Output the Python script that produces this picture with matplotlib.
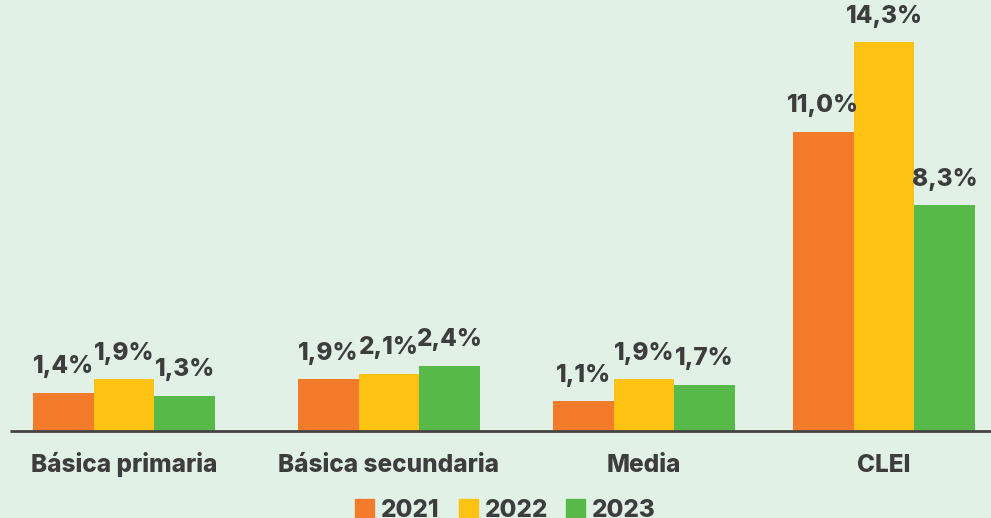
import matplotlib
matplotlib.use("Agg")
import matplotlib.pyplot as plt
from matplotlib.patches import Rectangle

# ---- data ----
categories = ["Básica primaria", "Básica secundaria", "Media", "CLEI"]
years = ["2021", "2022", "2023"]
values_2021 = [1.4, 1.9, 1.1, 11.0]
values_2022 = [1.9, 2.1, 1.9, 14.3]
values_2023 = [1.3, 2.4, 1.7, 8.3]
series = [values_2021, values_2022, values_2023]

# ---- style ----
W, H = 991, 518
bg = "#E1F1E6"
colors = ["#F47B2A", "#FDC212", "#57B947"]
txt = "#3D3D3D"
plt.rcParams['font.family'] = ['Inter', 'DejaVu Sans']
FS = 17.5
FW = 'heavy'

fig = plt.figure(figsize=(W / 100, H / 100), dpi=100)
fig.patch.set_facecolor(bg)

base_px = 431  # baseline, pixels from top
ax = fig.add_axes([0, (H - base_px) / H, 1, base_px / H])
ax.set_facecolor(bg)
ax.set_xlim(0, W)
ax.set_ylim(0, base_px / 27.2)
for s in ax.spines.values():
    s.set_visible(False)
ax.set_xticks([])
ax.set_yticks([])

group_centers = [124, 389, 644, 884]
bar_w = 60.7

for i, (vals, col) in enumerate(zip(series, colors)):
    xs = [c + (i - 1) * bar_w for c in group_centers]
    ax.bar(xs, vals, width=bar_w, color=col, align='center', zorder=2)
    for x, v in zip(xs, vals):
        ax.annotate(f"{v:.1f}%".replace('.', ','), xy=(x, v), xytext=(0, 14),
                    textcoords='offset points', ha='center', va='baseline',
                    fontsize=FS, fontweight=FW, color=txt, zorder=3)

ax.plot([10, W], [0, 0], color="#444444", lw=2, zorder=4, clip_on=False,
        solid_capstyle='butt')

for c, name in zip(group_centers, categories):
    ax.annotate(name, xy=(c, 0), xycoords=('data', 'axes fraction'),
                xytext=(0, -29.5), textcoords='offset points',
                ha='center', va='baseline', fontsize=FS, fontweight=FW,
                color=txt)

# legend (manual)
leg_x = [355, 459, 566]
sq = 19
for x0, name, col in zip(leg_x, years, colors):
    fig.patches.append(Rectangle((x0 / W, 0), sq / W, sq / H,
                                 transform=fig.transFigure, color=col,
                                 figure=fig))
    fig.text((x0 + sq + 7) / W, 1 / H, name, ha='left', va='baseline',
             fontsize=FS, fontweight=FW, color=txt)

fig.savefig("out.png", dpi=100, facecolor=bg)
